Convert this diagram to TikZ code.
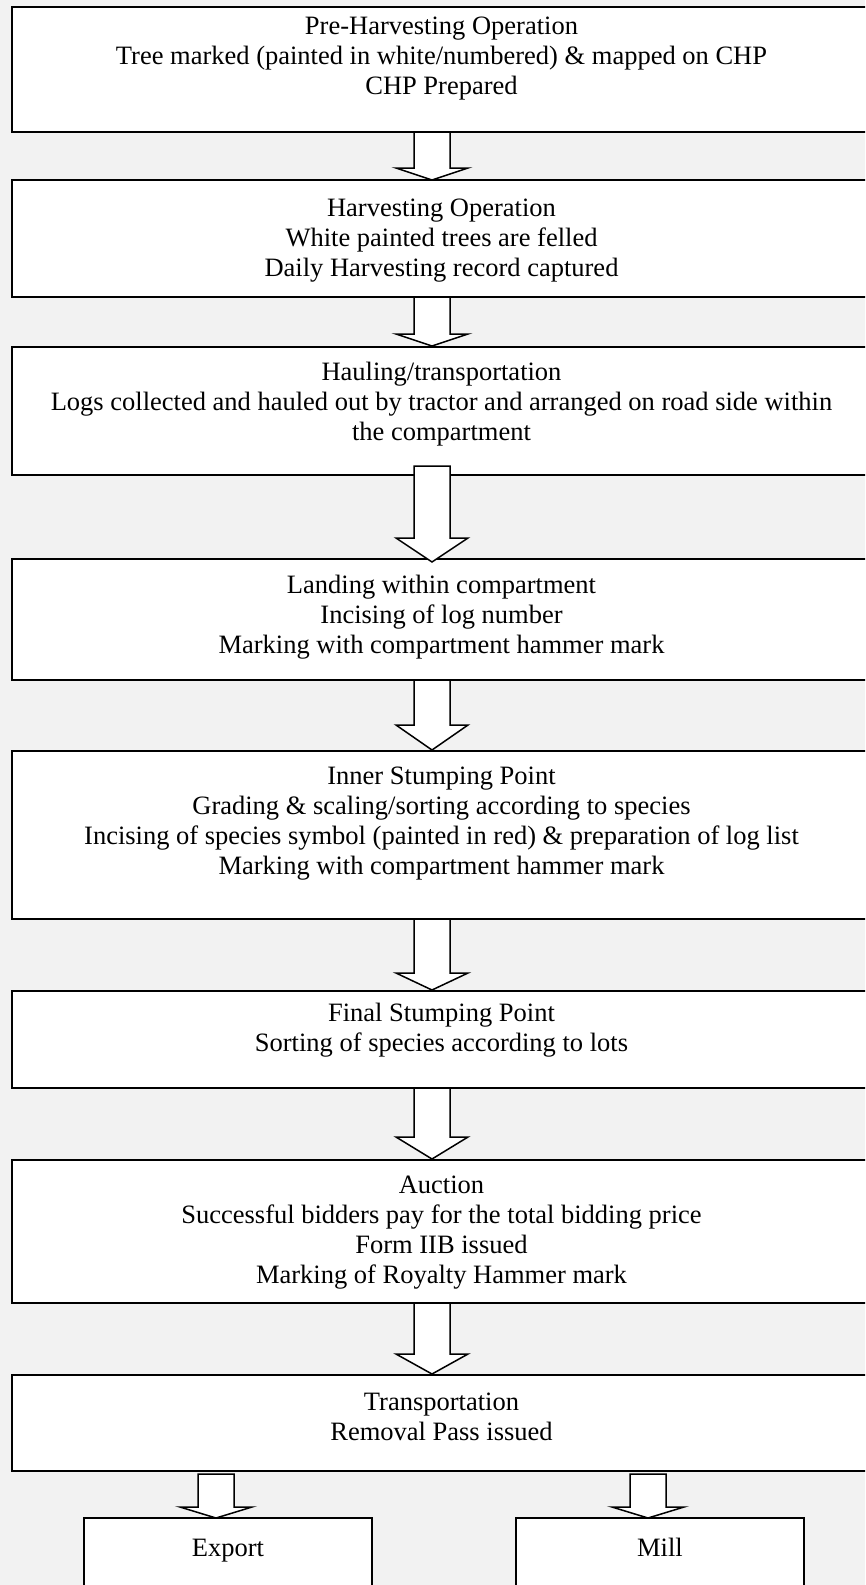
\documentclass[tikz,border=0pt]{standalone}
\usepackage{fontspec}
\setmainfont{Liberation Serif}
\usetikzlibrary{calc}
\begin{document}
\begin{tikzpicture}[x=1pt,y=-1pt,
  stagebox/.style={draw=black, line width=1.7pt, fill=white, rectangle,
    inner sep=0pt, outer sep=0pt, anchor=north west},
  % anchor=base sits on the baseline of the last line of a multi-line text
  stagetext/.style={align=center, inner sep=0pt, anchor=base,
    font=\fontsize{26.5}{30}\selectfont},
  blockarrow/.style={draw=black, line width=1.5pt, fill=white, line join=miter,
    to path={let \p1=(\tikztostart), \p2=(\tikztotarget) in
      (\x1-18pt,\y1) -- (\x1-18pt,\y2+#1pt) -- (\x1-36pt,\y2+#1pt) -- (\x1,\y2)
      -- (\x1+36pt,\y2+#1pt) -- (\x1+18pt,\y2+#1pt) -- (\x1+18pt,\y1) -- cycle}},
]
\clip (0,0) rectangle (865,1585);
\fill[fill={rgb,255:red,242;green,242;blue,242}] (0,0) rectangle (865,1585);

% process stages, stacked from top to bottom
\node[stagebox, minimum width=859, minimum height=125] (b1) at (12,7) {};
\node[stagebox, minimum width=859, minimum height=117] (b2) at (12,180) {};
\node[stagebox, minimum width=859, minimum height=128] (b3) at (12,347) {};
\node[stagebox, minimum width=859, minimum height=121] (b4) at (12,559) {};
\node[stagebox, minimum width=859, minimum height=168] (b5) at (12,751) {};
\node[stagebox, minimum width=859, minimum height=97]  (b6) at (12,991) {};
\node[stagebox, minimum width=859, minimum height=143] (b7) at (12,1160) {};
\node[stagebox, minimum width=859, minimum height=96]  (b8) at (12,1375) {};
\node[stagebox, minimum width=288, minimum height=90]  (b9) at (84,1518) {};
\node[stagebox, minimum width=288, minimum height=90]  (b10) at (516,1518) {};

% stage descriptions (positioned by the baseline of their last line)
\node[stagetext] (t1) at ($(b1.north)+(0,87)$) {Pre-Harvesting Operation\\Tree marked (painted in white/numbered) \& mapped on CHP\\CHP Prepared};
\node[stagetext] (t2) at ($(b2.north)+(0,96)$) {Harvesting Operation\\White painted trees are felled\\Daily Harvesting record captured};
\node[stagetext] (t3) at ($(b3.north)+(0,93)$) {Hauling/transportation\\Logs collected and hauled out by tractor and arranged on road side within\\the compartment};
\node[stagetext] (t4) at ($(b4.north)+(0,94)$) {Landing within compartment\\Incising of log number\\Marking with compartment hammer mark};
\node[stagetext] (t5) at ($(b5.north)+(0,123)$) {Inner Stumping Point\\Grading \& scaling/sorting according to species\\Incising of species symbol (painted in red) \& preparation of log list\\Marking with compartment hammer mark};
\node[stagetext] (t6) at ($(b6.north)+(0,60)$) {Final Stumping Point\\Sorting of species according to lots};
\node[stagetext] (t7) at ($(b7.north)+(0,123)$) {Auction\\Successful bidders pay for the total bidding price\\Form IIB issued\\Marking of Royalty Hammer mark};
\node[stagetext] (t8) at ($(b8.north)+(0,65)$) {Transportation\\Removal Pass issued};
\node[stagetext] (t9) at ($(b9.north)+(0,38)$) {Export};
\node[stagetext] (t10) at ($(b10.north)+(0,38)$) {Mill};

% block arrows between stages
\draw[blockarrow=12] ($(b1.south)+(-9.5,0)$) to ($(b2.north)+(-9.5,0)$);
\draw[blockarrow=12] ($(b2.south)+(-9.5,0)$) to ($(b3.north)+(-9.5,-1)$);
\draw[blockarrow=24] ($(b3.south)+(-9.5,-9)$) to ($(b4.north)+(-9.5,3)$);
\draw[blockarrow=25] ($(b4.south)+(-9.5,0)$) to ($(b5.north)+(-9.5,-1)$);
\draw[blockarrow=17] ($(b5.south)+(-9.5,0)$) to ($(b6.north)+(-9.5,-1)$);
\draw[blockarrow=22] ($(b6.south)+(-9.5,0)$) to ($(b7.north)+(-9.5,-1)$);
\draw[blockarrow=20] ($(b7.south)+(-9.5,0)$) to ($(b8.north)+(-9.5,-1)$);
\draw[blockarrow=11] ($(b8.south)+(-225.5,3)$) to ($(b9.north)+(-12,0)$);
\draw[blockarrow=11] ($(b8.south)+(206.5,3)$) to ($(b10.north)+(-12,0)$);
\end{tikzpicture}
\end{document}
